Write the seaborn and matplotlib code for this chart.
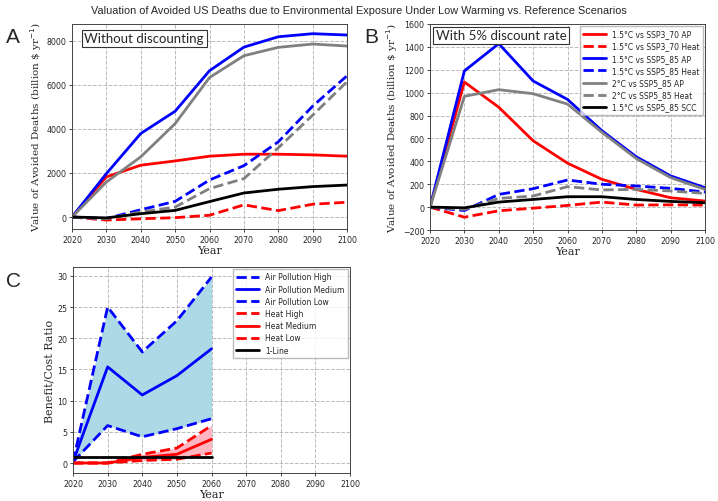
import matplotlib
matplotlib.use("Agg")
import matplotlib.pyplot as plt
import seaborn as sns

# --- data ---
years = [2020, 2030, 2040, 2050, 2060, 2070, 2080, 2090, 2100]

# panel A: without discounting (billion $ / yr)
a_ssp370_ap = [0, 1820, 2350, 2545, 2760, 2850, 2850, 2820, 2760]
a_ssp370_heat = [0, -140, -80, -30, 80, 550, 290, 580, 670]
a_ssp585_ap = [0, 1970, 3790, 4800, 6640, 7710, 8180, 8320, 8260]
a_ssp585_heat = [0, -70, 330, 710, 1680, 2330, 3410, 5030, 6410]
a_2c_ap = [0, 1590, 2730, 4240, 6330, 7320, 7700, 7850, 7760]
a_2c_heat = [0, -80, 230, 450, 1290, 1740, 3140, 4620, 6140]
a_scc = [0, -40, 150, 300, 700, 1090, 1260, 1380, 1450]

# panel B: with 5% discount rate
b_ssp370_ap = [0, 1093, 873, 580, 384, 243, 155, 82, 53]
b_ssp370_heat = [0, -88, -32, -9, 15, 44, 18, 20, 18]
b_ssp585_ap = [0, 1190, 1428, 1102, 941, 668, 440, 273, 170]
b_ssp585_heat = [0, -30, 111, 161, 237, 200, 185, 164, 132]
b_2c_ap = [0, 968, 1026, 991, 900, 654, 425, 258, 155]
b_2c_heat = [0, -20, 76, 97, 179, 150, 155, 141, 120]
b_scc = [0, -6, 44, 67, 91, 91, 67, 50, 38]

# panel C: benefit / cost ratio
c_years = [2020, 2030, 2040, 2050, 2060]
air_high = [0.2, 25.0, 17.8, 22.8, 29.8]
air_med = [0.2, 15.4, 10.9, 14.0, 18.3]
air_low = [0.2, 6.0, 4.2, 5.5, 7.1]
heat_high = [0, 0, 1.4, 2.4, 6.0]
heat_med = [0, 0, 0.9, 1.4, 3.8]
heat_low = [0, 0, 0.4, 0.6, 1.6]
one_line = [1, 1, 1, 1, 1]

labels_b = ['1.5°C vs SSP3_70 AP', '1.5°C vs SSP3_70 Heat',
            '1.5°C vs SSP5_85 AP', '1.5°C vs SSP5_85 Heat',
            '2°C vs SSP5_85 AP', '2°C vs SSP5_85 Heat',
            '1.5°C vs SSP5_85 SCC']
styles = [('red', '-'), ('red', '--'), ('blue', '-'), ('blue', '--'),
          ('gray', '-'), ('gray', '--'), ('black', '-')]

sns.set_style('ticks')
plt.rcParams['font.family'] = ['DejaVu Sans']

fig = plt.figure(figsize=(7.18, 5.02), dpi=100)
ax_a = fig.add_axes([0.1003, 0.5418, 0.383, 0.4084])
ax_b = fig.add_axes([0.5989, 0.5398, 0.383, 0.4104])
ax_c = fig.add_axes([0.1017, 0.0558, 0.3858, 0.4102])

ylab = 'Value of Avoided Deaths (billion \\$ yr$^{-1}$)'


def style_axes(ax):
    ax.grid(True, linestyle='--', color='#bbbbbb', linewidth=0.7)
    ax.set_axisbelow(True)
    ax.tick_params(labelsize=5.7, length=2.5, width=0.6, pad=1.5)
    for sp in ax.spines.values():
        sp.set_linewidth(0.7)
        sp.set_color('#444444')
    ax.set_xlim(2020, 2100)
    ax.set_xticks(years)
    ax.set_xlabel('Year', family='DejaVu Serif', fontsize=8, labelpad=1)


def leg(ax):
    ax.legend(loc='upper right', fontsize=5.5, frameon=True, fancybox=False,
              edgecolor='#aaaaaa', handlelength=3, borderaxespad=0.3,
              labelspacing=0.42, borderpad=0.4)


# panel A
series_a = [a_ssp370_ap, a_ssp370_heat, a_ssp585_ap, a_ssp585_heat,
            a_2c_ap, a_2c_heat, a_scc]
for vals, (c, ls) in zip(series_a, styles):
    sns.lineplot(x=years, y=vals, color=c, linestyle=ls, linewidth=2, ax=ax_a)
style_axes(ax_a)
ax_a.set_ylim(-545, 8760)
ax_a.set_yticks([0, 2000, 4000, 6000, 8000])
ax_a.set_ylabel(ylab, family='DejaVu Serif', fontsize=7.5, labelpad=2)
ax_a.text(0.045, 0.96, 'Without discounting', transform=ax_a.transAxes,
          fontsize=9.5, family='Lato', va='top', ha='left',
          bbox=dict(boxstyle='square,pad=0.2', fc='white', ec='#333333', lw=0.8))

# panel B
series_b = [b_ssp370_ap, b_ssp370_heat, b_ssp585_ap, b_ssp585_heat,
            b_2c_ap, b_2c_heat, b_scc]
for vals, lab, (c, ls) in zip(series_b, labels_b, styles):
    sns.lineplot(x=years, y=vals, color=c, linestyle=ls, linewidth=2,
                 label=lab, ax=ax_b)
style_axes(ax_b)
ax_b.set_ylim(-200, 1600)
ax_b.set_yticks(range(-200, 1601, 200))
ax_b.set_ylabel(ylab, family='DejaVu Serif', fontsize=7.5, labelpad=2)
ax_b.text(0.02, 0.975, 'With 5% discount rate', transform=ax_b.transAxes,
          fontsize=9.5, family='Lato', va='top', ha='left',
          bbox=dict(boxstyle='square,pad=0.2', fc='white', ec='#333333', lw=0.8))
leg(ax_b)

# panel C
ax_c.fill_between(c_years, air_low, air_high, color='lightblue', lw=0)
ax_c.fill_between(c_years, heat_low, heat_high, color='lightpink', lw=0)
c_series = [(air_high, 'Air Pollution High', 'blue', '--'),
            (air_med, 'Air Pollution Medium', 'blue', '-'),
            (air_low, 'Air Pollution Low', 'blue', '--'),
            (heat_high, 'Heat High', 'red', '--'),
            (heat_med, 'Heat Medium', 'red', '-'),
            (heat_low, 'Heat Low', 'red', '--'),
            (one_line, '1-Line', 'black', '-')]
for vals, lab, c, ls in c_series:
    sns.lineplot(x=c_years, y=vals, color=c, linestyle=ls, linewidth=2,
                 label=lab, ax=ax_c)
style_axes(ax_c)
ax_c.set_ylim(-1.6, 31.4)
ax_c.set_yticks([0, 5, 10, 15, 20, 25, 30])
ax_c.set_ylabel('Benefit/Cost Ratio', family='DejaVu Serif', fontsize=8, labelpad=2)
leg(ax_c)

# panel letters and title
for lt, x, y in [('A', 0.008, 0.915), ('B', 0.507, 0.915), ('C', 0.008, 0.428)]:
    fig.text(x, y, lt, fontsize=15, family='Liberation Sans')
fig.text(0.5, 0.978, 'Valuation of Avoided US Deaths due to Environmental Exposure '
         'Under Low Warming vs. Reference Scenarios', ha='center', va='center',
         fontsize=7.8, family=['Liberation Sans Narrow', 'Liberation Sans'])

fig.savefig('out.png', dpi=100)
